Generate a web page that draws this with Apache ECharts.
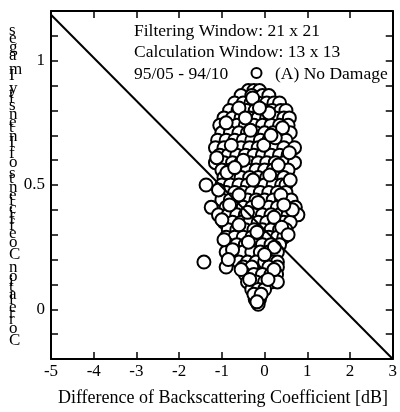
<!DOCTYPE html>
<html><head><meta charset="utf-8">
<script src="https://cdn.jsdelivr.net/npm/echarts@6/dist/echarts.min.js"></script>
<style>html,body{margin:0;padding:0;background:#fff}#c{width:400px;height:412px}</style>
</head><body><div id="c"></div>
<script>
// [difference of backscattering coefficient (dB), correlation coefficient]
const points = [
[-0.38,0.88],[-0.25,0.88],[-0.12,0.88],
[-0.55,0.86],[-0.3,0.86],[-0.05,0.86],[0.1,0.86],
[-0.7,0.83],[-0.5,0.83],[-0.32,0.83],[-0.15,0.83],[0.05,0.83],[0.22,0.83],[0.35,0.83],
[-0.82,0.8],[-0.62,0.8],[-0.42,0.8],[-0.22,0.8],[-0.02,0.8],[0.18,0.8],[0.38,0.8],[0.5,0.8],
[-0.95,0.77],[-0.75,0.77],[-0.55,0.77],[-0.35,0.77],[-0.15,0.77],[0.05,0.77],[0.25,0.77],[0.45,0.77],[0.58,0.77],
[-1.05,0.74],[-0.85,0.74],[-0.65,0.74],[-0.45,0.74],[-0.25,0.74],[-0.05,0.74],[0.15,0.74],[0.35,0.74],[0.55,0.74],
[-1.0,0.71],[-0.8,0.71],[-0.6,0.71],[-0.4,0.71],[-0.2,0.71],[0.0,0.71],[0.2,0.71],[0.4,0.71],[0.6,0.71],
[-1.1,0.68],[-0.9,0.68],[-0.7,0.68],[-0.5,0.68],[-0.3,0.68],[-0.1,0.68],[0.1,0.68],[0.3,0.68],[0.5,0.68],
[-1.15,0.65],[-0.95,0.65],[-0.75,0.65],[-0.55,0.65],[-0.35,0.65],[-0.15,0.65],[0.05,0.65],[0.25,0.65],[0.45,0.65],[0.7,0.65],
[-1.05,0.62],[-0.85,0.62],[-0.65,0.62],[-0.45,0.62],[-0.25,0.62],[-0.05,0.62],[0.15,0.62],[0.35,0.62],[0.55,0.62],
[-1.15,0.59],[-0.95,0.59],[-0.75,0.59],[-0.55,0.59],[-0.35,0.59],[-0.15,0.59],[0.05,0.59],[0.25,0.59],[0.45,0.59],[0.7,0.59],
[-1.0,0.56],[-0.8,0.56],[-0.6,0.56],[-0.4,0.56],[-0.2,0.56],[0.0,0.56],[0.2,0.56],[0.4,0.56],[0.55,0.56],
[-0.95,0.53],[-0.75,0.53],[-0.55,0.53],[-0.35,0.53],[-0.15,0.53],[0.05,0.53],[0.25,0.53],[0.45,0.53],
[-1.37,0.5],[-1.0,0.5],[-0.8,0.5],[-0.6,0.5],[-0.4,0.5],[-0.2,0.5],[0.0,0.5],[0.2,0.5],[0.4,0.5],[0.5,0.5],
[-0.9,0.47],[-0.7,0.47],[-0.5,0.47],[-0.3,0.47],[-0.1,0.47],[0.1,0.47],[0.3,0.47],[0.5,0.47],
[-1.0,0.44],[-0.8,0.44],[-0.6,0.44],[-0.4,0.44],[-0.2,0.44],[0.0,0.44],[0.2,0.44],[0.4,0.44],[0.62,0.44],
[-1.25,0.41],[-0.9,0.41],[-0.7,0.41],[-0.5,0.41],[-0.3,0.41],[-0.1,0.41],[0.1,0.41],[0.3,0.41],[0.5,0.41],[0.72,0.41],
[-1.08,0.38],[-0.85,0.38],[-0.65,0.38],[-0.45,0.38],[-0.25,0.38],[-0.05,0.38],[0.15,0.38],[0.35,0.38],[0.55,0.38],[0.78,0.38],
[-0.95,0.35],[-0.75,0.35],[-0.55,0.35],[-0.35,0.35],[-0.15,0.35],[0.05,0.35],[0.25,0.35],[0.45,0.35],[0.6,0.35],
[-0.85,0.32],[-0.65,0.32],[-0.45,0.32],[-0.25,0.32],[-0.05,0.32],[0.15,0.32],[0.35,0.32],[0.5,0.32],
[-0.9,0.29],[-0.7,0.29],[-0.5,0.29],[-0.3,0.29],[-0.1,0.29],[0.1,0.29],[0.3,0.29],[0.45,0.29],
[-0.85,0.26],[-0.65,0.26],[-0.45,0.26],[-0.25,0.26],[-0.05,0.26],[0.15,0.26],[0.35,0.26],
[-0.9,0.23],[-0.7,0.23],[-0.5,0.23],[-0.3,0.23],[-0.1,0.23],[0.1,0.23],[0.3,0.23],
[-1.42,0.19],[-0.6,0.19],[-0.4,0.19],[-0.2,0.19],[0.0,0.19],[0.2,0.19],[0.3,0.19],
[-0.9,0.17],[-0.5,0.17],[-0.3,0.17],[0.1,0.17],[0.3,0.17],
[-0.45,0.14],[-0.25,0.14],[-0.05,0.14],[0.15,0.14],[0.28,0.14],
[-0.4,0.11],[-0.2,0.11],[0.0,0.11],[0.15,0.11],[0.3,0.11],
[-0.3,0.08],[-0.15,0.08],[0.0,0.08],
[-0.22,0.04],[-0.12,0.04],
[-0.15,0.02],
[-0.28,0.85],[-0.6,0.81],[0.1,0.79],[-0.9,0.75],[0.42,0.73],[-0.33,0.72],[0.25,0.69],[-0.78,0.66],
[-0.02,0.66],[0.58,0.63],[-1.12,0.61],[-0.5,0.6],[0.32,0.58],[-0.88,0.55],[0.12,0.54],[-0.27,0.52],
[0.6,0.52],[-1.08,0.48],[-0.6,0.46],[0.38,0.46],[-0.15,0.43],[-0.82,0.42],[0.65,0.4],[-0.4,0.39],
[0.22,0.37],[-1.0,0.36],[-0.6,0.34],[0.4,0.33],[-0.18,0.31],[0.55,0.3],[-0.95,0.28],[-0.38,0.27],
[0.23,0.25],[-0.75,0.24],[0.0,0.22],[-0.85,0.2],[-0.55,0.16],[0.22,0.16],[-0.35,0.12],[0.08,0.12],
[-0.25,0.06],[-0.08,0.06],[-0.18,0.03],[0.45,0.42],[-0.7,0.57],[0.15,0.7],[-0.45,0.77],[-0.12,0.81]
];
const thresholdLine = [[-5, 1.185], [3, -0.2]];
const xTicks = [-5, -4, -3, -2, -1, 0, 1, 2, 3];
const yTickLabels = [0, 0.5, 1];
const noteLines = ['Filtering Window: 21 x 21', 'Calculation Window: 13 x 13', '95/05 - 94/10'];
const seriesName = '(A) No Damage';
const xTitle = 'Difference of Backscattering Coefficient [dB]';
const yTitle = 'Correlation Coefficients of Intensity Images';

const FF = '"Liberation Serif","Times New Roman",serif';
const chart = echarts.init(document.getElementById('c'));

// y-axis title: upright glyphs stacked bottom-to-top
const ctx = document.createElement('canvas').getContext('2d');
ctx.font = '17px "Liberation Serif"';
const totalAdv = ctx.measureText(yTitle.slice(0, -1)).width;
const k = 310 / totalAdv;
const yBase = 345;
const graphics = [];
for (let i = 0; i < yTitle.length; i++) {
  const ch = yTitle[i];
  if (ch === ' ') continue;
  const adv = ctx.measureText(yTitle.slice(0, i)).width * k;
  graphics.push({type: 'text', x: 9, y: yBase - adv + 4, z: 10,
    style: {text: ch, font: '17px ' + FF, fill: '#000', verticalAlign: 'bottom', align: 'left'}});
}
noteLines.forEach((t, i) => {
  graphics.push({type: 'text', x: 134, y: 31 + i * 21.5, z: 10,
    style: {text: t, font: '17.5px ' + FF, fill: '#000', verticalAlign: 'middle', align: 'left'}});
});
graphics.push({type: 'circle', shape: {cx: 256.5, cy: 73, r: 5}, z: 10,
  style: {fill: '#fff', stroke: '#000', lineWidth: 2}});
graphics.push({type: 'text', x: 275, y: 74, z: 10,
  style: {text: seriesName, font: '17.5px ' + FF, fill: '#000', verticalAlign: 'middle', align: 'left'}});
graphics.push({type: 'text', x: 223, y: 398, z: 10,
  style: {text: xTitle, font: '18px ' + FF, fill: '#000', verticalAlign: 'middle', align: 'center'}});

const axisCommon = {
  axisLine: {show: true, onZero: false, lineStyle: {color: '#000', width: 2}},
  axisTick: {show: true, inside: true, length: 7, lineStyle: {color: '#000', width: 1.5}},
  splitLine: {show: false}
};
chart.setOption({
  animation: false,
  backgroundColor: '#fff',
  grid: {left: 51, right: 3, top: 11, bottom: 53},
  xAxis: [
    Object.assign({type: 'value', min: xTicks[0], max: xTicks[xTicks.length - 1], interval: 1, position: 'bottom',
      axisLabel: {color: '#000', fontFamily: FF, fontSize: 17, margin: 4}}, axisCommon),
    Object.assign({type: 'value', min: xTicks[0], max: xTicks[xTicks.length - 1], interval: 1, position: 'top',
      axisLabel: {show: false}}, axisCommon)
  ],
  yAxis: [
    Object.assign({type: 'value', min: -0.2, max: 1.2, interval: 0.1, position: 'left',
      axisLabel: {color: '#000', fontFamily: FF, fontSize: 17, margin: 6,
        formatter: v => { const t = yTickLabels.find(t => Math.abs(t - v) < 1e-6); return t === undefined ? '' : String(t); }}}, axisCommon),
    Object.assign({type: 'value', min: -0.2, max: 1.2, interval: 0.1, position: 'right',
      axisLabel: {show: false}}, axisCommon)
  ],
  series: [
    {type: 'scatter', name: seriesName, data: points, symbol: 'circle', symbolSize: 13, z: 2,
      itemStyle: {color: '#fff', borderColor: '#000', borderWidth: 2, opacity: 1}},
    {type: 'line', data: thresholdLine, showSymbol: false, symbol: 'none', z: 3,
      lineStyle: {color: '#000', width: 2}}
  ],
  graphic: graphics
});
</script></body></html>
